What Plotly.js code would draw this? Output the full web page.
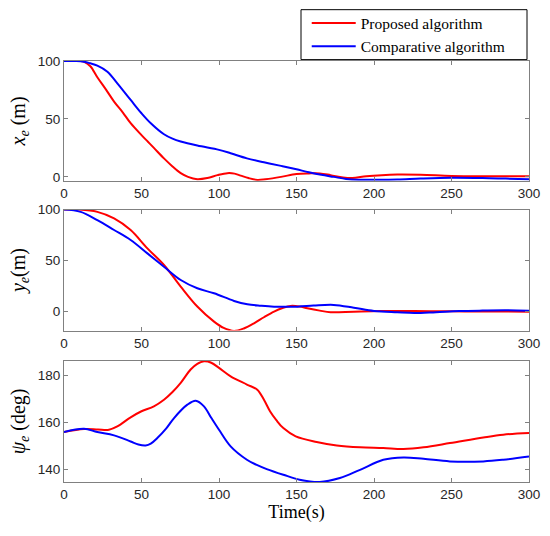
<!DOCTYPE html>
<html>
<head>
<meta charset="utf-8">
<script src="https://cdn.plot.ly/plotly-3.0.1.min.js"></script>
<style>html,body{margin:0;padding:0;background:#fff;}#chart{width:550px;height:536px;}</style>
</head>
<body>
<div id="chart"></div>
<script>
// ---- Data ----
const tickVals = [0, 50, 100, 150, 200, 250, 300];
const seriesNames = ["Proposed algorithm", "Comparative algorithm"];

const xeProp_t = [0,5,10,13,17,21.5,27,32.3,38,43,50,54,58,64.5,70,75.3,80,86,92.5,99,105.4,110,114,119,124.7,130,140,150,158,165,172,180,186,195,205,215,230,250,270,300];
const xeProp_v = [100,100,100,99.3,95.5,86,75.5,65,55.5,46.3,36,30.5,25,16,9,3.2,0,-2,-1,1.5,3.2,2.8,1.1,-1,-2.6,-2,0,2.5,3,3,1.5,-0.5,-1,0.5,1.5,2,1.8,0.8,0.5,0.5];
const xeComp_t = [0,8,12.9,17,21.5,28,34.4,43,50,56,64.5,70,75.3,86,100,107.5,118,129,140,150,158,166,174,182,190,200,215,230,250,270,285,300];
const xeComp_v = [100,100,99.4,98,96,90.8,80.7,66.4,54.9,46.3,36.8,33,30.5,27,23.3,20.4,16,12.6,9.5,6.5,4,1.8,0,-1.8,-2.5,-2.5,-2.3,-1.5,-0.8,-1,-1.5,-2];

const yeProp_t = [0,10,21.5,32.3,43,53.8,64.5,75.3,86,96.8,103,109.7,116,122.6,129,135.5,141,146.3,152,157,165,172,187,204,226,250,270,300];
const yeProp_v = [100,100,97.8,91.4,80,62,45.7,24.5,5,-9.8,-16,-18.9,-16.5,-11.4,-5.5,0,3.5,5.6,5,3.3,1,-0.6,0,0.6,0.6,0.3,0.2,0];
const yeComp_t = [0,10.75,21.5,32.3,43,53.8,64.5,75.3,86,96.8,109.7,118.3,127,135.5,150.6,161,174,187,200,215,226,240,255,270,285,300];
const yeComp_v = [100,97.8,89.7,80,70.2,57.1,44,31,22.9,18,10.5,7.2,5.8,4.9,4.9,5.9,6.6,3.9,0.7,-0.6,-1.3,-0.5,0.5,1,1.3,0.8];

const psiProp_t = [0,12.9,22,29,34.4,43,50,58,64.5,70,75.3,81.7,86,90.3,95,100,107.5,118,124.7,129,132.9,137,141.5,149.5,163,176,191,206,219,232,249,270.5,283.4,300];
const psiProp_v = [155.9,157.2,157,156.9,158.3,162.2,164.8,166.9,169.7,173,176.9,182.6,185,186.1,185.5,183.3,179.7,176.2,174,169.7,164.8,161,157.6,154.1,151.7,150.2,149.4,149.1,148.7,149.4,151.2,153.6,154.8,155.5];
const psiComp_t = [0,12.9,21.5,32.3,43,48,52.7,56,60.2,66,71,79.6,85,90.3,95,100,107.5,118,124,130.8,141.5,152,165,178,191,206,219,232,249,270.5,283.4,300];
const psiComp_v = [155.9,157.3,155.9,154.5,151.9,150.6,150.2,151,153.4,157.5,161.9,167.6,169.3,166.9,162,156.9,149.8,144.1,142,140.1,137.7,135.6,134.6,136.3,139.8,144.1,145.1,144.5,143.4,143.4,144.1,145.5];

// ---- Styling ----
const RED = '#ff0000', BLUE = '#0000ff';
const serif = 'Liberation Serif, Times New Roman, serif';
const sans = 'Liberation Sans, Arial, sans-serif';

function tr(x, y, color, name, ax, show) {
  return {x: x, y: y, type: 'scatter', mode: 'lines', name: name,
    line: {color: color, width: 2, shape: 'spline', smoothing: 1},
    xaxis: ax[0], yaxis: ax[1], showlegend: show, legendgroup: name};
}

const data = [
  tr(xeProp_t, xeProp_v, RED, seriesNames[0], ['x', 'y'], true),
  tr(xeComp_t, xeComp_v, BLUE, seriesNames[1], ['x', 'y'], true),
  tr(yeProp_t, yeProp_v, RED, seriesNames[0], ['x2', 'y2'], false),
  tr(yeComp_t, yeComp_v, BLUE, seriesNames[1], ['x2', 'y2'], false),
  tr(psiProp_t, psiProp_v, RED, seriesNames[0], ['x3', 'y3'], false),
  tr(psiComp_t, psiComp_v, BLUE, seriesNames[1], ['x3', 'y3'], false)
];

function xax(anchor, title) {
  const a = {anchor: anchor, range: [0, 300], tickvals: tickVals, ticks: 'inside', ticklen: 4,
    tickcolor: '#808080', showline: true, linecolor: '#808080', linewidth: 1, mirror: 'ticks',
    showgrid: false, zeroline: false, tickfont: {family: sans, size: 13.5, color: '#262626'}};
  if (title) a.title = {text: title, font: {family: serif, size: 18, color: '#000'}, standoff: 2};
  return a;
}
function yax(anchor, dom, range, tv, title) {
  return {anchor: anchor, domain: dom, range: range, tickvals: tv, ticks: 'inside', ticklen: 4,
    tickcolor: '#808080', showline: true, linecolor: '#808080', linewidth: 1, mirror: 'ticks',
    showgrid: false, zeroline: false, tickfont: {family: sans, size: 13.5, color: '#262626'},
    title: {text: title, font: {family: serif, size: 20, color: '#000'}, standoff: 6}};
}

const layout = {
  width: 550, height: 536,
  margin: {l: 64, r: 21, t: 60.7, b: 53.7, autoexpand: false},
  paper_bgcolor: '#fff', plot_bgcolor: '#fff',
  xaxis: xax('y'),
  xaxis2: xax('y2'),
  xaxis3: xax('y3', 'Time(s)'),
  yaxis: yax('x', [0.7154, 1], [-3.4, 100], [0, 50, 100], '<i>x<sub>e</sub></i> (m)'),
  yaxis2: yax('x2', [0.3596, 0.647], [-18.6, 100], [0, 50, 100], '<i>y<sub>e</sub></i>(m)'),
  yaxis3: yax('x3', [0, 0.2877], [134.6, 186.3], [140, 160, 180], '<i>ψ<sub>e</sub></i> (deg)'),
  showlegend: true,
  legend: {x: 0.522, xanchor: 'left', y: 1.1295, yanchor: 'top', bgcolor: 'rgba(0,0,0,0)',
    borderwidth: 0, itemwidth: 44, font: {family: serif, size: 15.5, color: '#000'},
    tracegroupgap: 0},
  shapes: [{type: 'rect', xref: 'paper', yref: 'paper', x0: 0.5097, x1: 0.9957, y0: 1.0033, y1: 1.1219,
    line: {color: '#000', width: 1}, fillcolor: '#fff', layer: 'below'}]
};

Plotly.newPlot('chart', data, layout, {displayModeBar: false, staticPlot: true});
</script>
</body>
</html>
